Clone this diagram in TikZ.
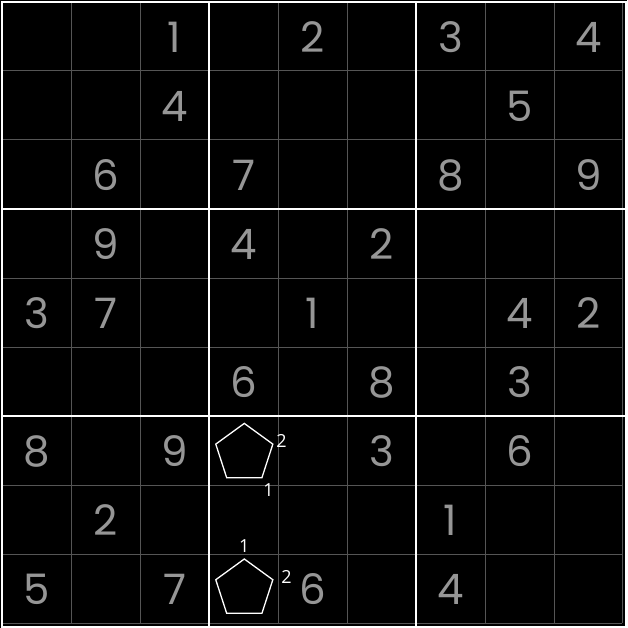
\documentclass[tikz,border=0pt]{standalone}
\usepackage{fontspec}
\setmainfont{Poppins}
\newfontfamily\tagfont{Open Sans}
\usetikzlibrary{shapes.geometric}
\definecolor{digitgray}{RGB}{150,150,150}
\definecolor{gridgray}{RGB}{85,85,85}
\tikzset{
  given/.style={text=digitgray, font=\fontsize{42}{42}\selectfont, inner sep=0pt, anchor=center},
  penta/.style={regular polygon, regular polygon sides=5, draw=white, line width=1.3pt, minimum size=60pt, inner sep=0pt},
  tag/.style={text=white, font=\tagfont\fontsize{18}{18}\selectfont, inner sep=0pt},
  thin grid/.style={draw=gridgray, line width=1pt},
  box line/.style={draw=white, line width=2pt},
}
\begin{document}
\begin{tikzpicture}[x=1pt, y=-1pt]
\useasboundingbox (0,0) rectangle (627,628);
\fill[black] (0,0) rectangle (627,628);
% thin grid
\foreach \i in {1,...,8} {
  \draw[thin grid] ({2+69*\i},2) -- ({2+69*\i},623);
  \draw[thin grid] (2,{2+69*\i}) -- (623,{2+69*\i});
}
\draw[thin grid] (2,623) -- (622,623);
\draw[thin grid] (622,2) -- (622,623);
% box lines
\foreach \i in {3,6} {
  \draw[box line] ({2+69*\i},2) -- ({2+69*\i},625.5);
  \draw[box line] (2,{2+69*\i}) -- (625.5,{2+69*\i});
}
\draw[box line] (2,2) rectangle (625.5,626.5);
% givens: {row/col/digit}
\foreach \r/\c/\d [count=\k] in {
  1/3/1, 1/5/2, 1/7/3, 1/9/4,
  2/3/4, 2/8/5,
  3/2/6, 3/4/7, 3/7/8, 3/9/9,
  4/2/9, 4/4/4, 4/6/2,
  5/1/3, 5/2/7, 5/5/1, 5/8/4, 5/9/2,
  6/4/6, 6/6/8, 6/8/3,
  7/1/8, 7/3/9, 7/6/3, 7/8/6,
  8/2/2, 8/7/1,
  9/1/5, 9/3/7, 9/5/6, 9/7/4} {
  \node[given] (g\k) at ({2+69*(\c-0.5)},{2+69*(\r-0.5)+1}) {\d};
}
% pentagons
\node[penta] (p1) at (244.3,453.4) {};
\node[tag] (p1a) at (281.5,441) {2};
\node[tag] (p1b) at (268.5,490) {1};
\node[penta] (p2) at (244.3,589) {};
\node[tag] (p2a) at (244.3,546) {1};
\node[tag] (p2b) at (286.5,576.5) {2};
\end{tikzpicture}
\end{document}
